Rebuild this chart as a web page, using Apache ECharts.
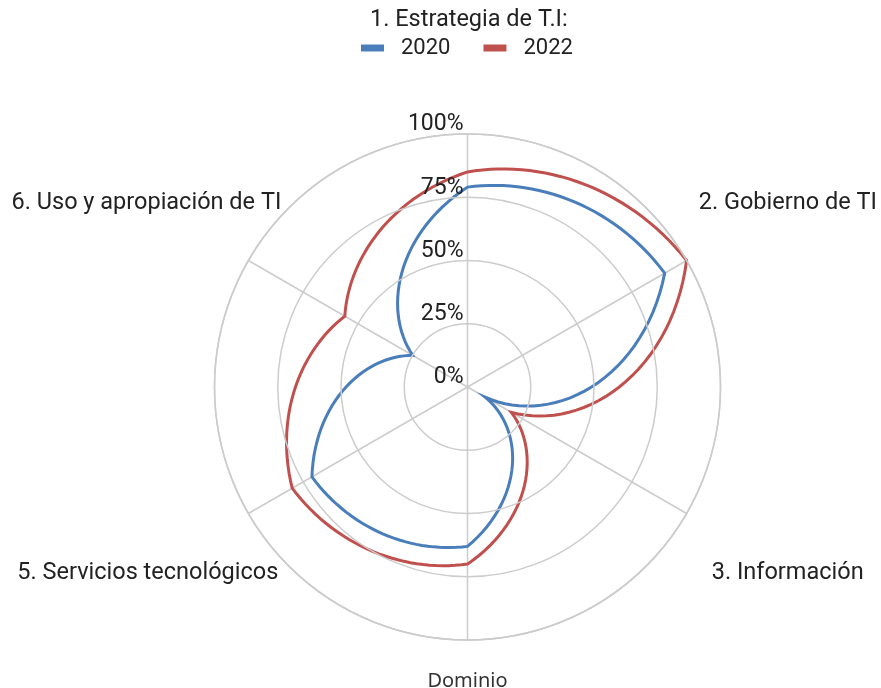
<!DOCTYPE html>
<html>
<head>
<meta charset="utf-8">
<script src="https://cdn.jsdelivr.net/npm/echarts@6/dist/echarts.min.js"></script>
<style>
  html, body { margin: 0; padding: 0; background: #fff; }
  #chart { width: 881px; height: 688px; }
</style>
</head>
<body>
<div id="chart"></div>
<script>
const categories = [
  '1. Estrategia de T.I:',
  '2. Gobierno de TI',
  '3. Información',
  'Dominio',
  '5. Servicios tecnológicos',
  '6. Uso y apropiación de TI',
]
const seriesNames = ['2020', '2022']
const values2020 = [79, 90, 8, 63, 71, 25]
const values2022 = [85, 100, 20, 70, 80, 56]
const radiusTicks = [0, 25, 50, 75, 100]
const colors = ['#4a7ebb', '#c0504d']

const step = 360 / categories.length

// draws the closed outline; between two categories the radius runs
// linearly with the angle, like the original chart's curved edges
function renderOutline(params, api) {
  const n = categories.length
  const sub = 30
  const points = []
  for (let k = 0; k < n; k++) {
    const r0 = api.value(k)
    const r1 = api.value((k + 1) % n)
    for (let t = 0; t < sub; t++) {
      const f = t / sub
      points.push(api.coord([r0 + (r1 - r0) * f, (k + f) * step]))
    }
  }
  return {
    type: 'polygon',
    shape: { points: points },
    style: {
      fill: 'none',
      stroke: colors[params.seriesIndex],
      lineWidth: 3,
      lineJoin: 'miter',
    },
  }
}

const chart = echarts.init(document.getElementById('chart'))

chart.setOption({
  animation: false,
  textStyle: { fontFamily: 'Roboto' },
  title: {
    text: categories[0],
    left: 365,
    top: 3,
    textStyle: { fontSize: 23.5, fontWeight: 'normal', color: '#222' },
  },
  legend: {
    data: seriesNames,
    top: 32,
    left: 356,
    icon: 'rect',
    itemWidth: 23,
    itemHeight: 7,
    itemGap: 33,
    textStyle: { fontSize: 22, color: '#222', padding: [0, 0, 0, 12] },
  },
  polar: {
    center: [467.5, 387],
    radius: 253,
  },
  angleAxis: {
    type: 'value',
    min: 0,
    max: 360,
    interval: step,
    startAngle: 90,
    clockwise: true,
    axisLine: { show: true, lineStyle: { color: '#ccc', width: 1.5 } },
    axisTick: { show: false },
    splitLine: { show: true, lineStyle: { color: '#ccc', width: 1.5 } },
    axisLabel: {
      margin: -38,
      fontSize: 23.5,
      color: '#222',
      formatter: function (v) {
        const i = Math.round(v / step)
        if (i === 0 || i >= categories.length) return ''
        const name = categories[i]
        if (i === 1) return '{tr|' + name + '}'
        if (i === 2) return '{br|' + name + '}'
        if (i === 3) return '{b|' + name + '}'
        if (i === 4) return '{bl|' + name + '}'
        return '{tl|' + name + '}'
      },
      rich: {
        tr: { fontSize: 23.5, color: '#222', padding: [0, 0, 64, 45] },
        br: { fontSize: 23.5, color: '#222', padding: [67, 0, 0, 58] },
        b: { fontSize: 20, fontFamily: 'Noto Sans', color: '#333', padding: [69, 0, 0, 0] },
        bl: { fontSize: 23.5, color: '#222', padding: [67, 3, 0, 0] },
        tl: { fontSize: 23.5, color: '#222', padding: [0, 0, 64, 0] },
      },
    },
  },
  radiusAxis: {
    type: 'value',
    min: radiusTicks[0],
    max: radiusTicks[radiusTicks.length - 1],
    interval: radiusTicks[1] - radiusTicks[0],
    angle: 90,
    axisLine: { show: false },
    axisTick: { show: false },
    splitLine: { show: true, lineStyle: { color: '#ccc', width: 1.5 } },
    axisLabel: {
      margin: 4,
      fontSize: 23,
      color: '#222',
      verticalAlign: 'bottom',
      lineHeight: 19,
      formatter: '{value}%',
    },
    z: 10,
  },
  series: [
    {
      name: seriesNames[0],
      type: 'custom',
      coordinateSystem: 'polar',
      data: [values2020],
      renderItem: renderOutline,
      itemStyle: { color: colors[0] },
      z: 3,
    },
    {
      name: seriesNames[1],
      type: 'custom',
      coordinateSystem: 'polar',
      data: [values2022],
      renderItem: renderOutline,
      itemStyle: { color: colors[1] },
      z: 4,
    },
  ],
})
</script>
</body>
</html>
